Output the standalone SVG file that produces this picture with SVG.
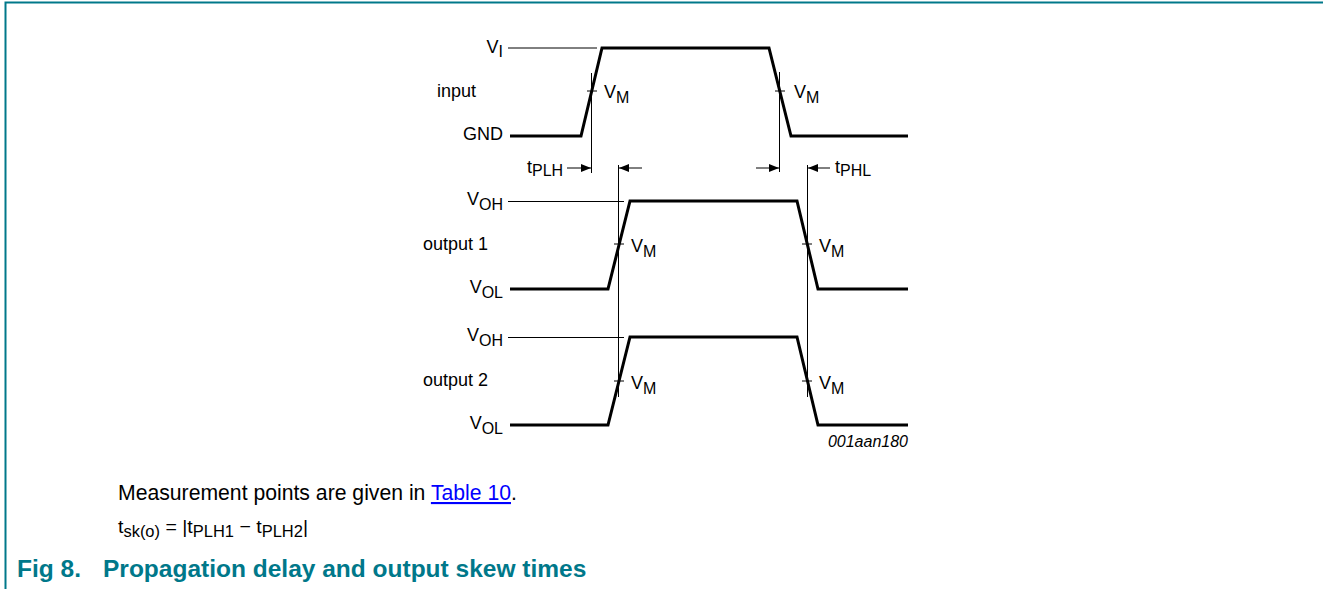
<svg xmlns="http://www.w3.org/2000/svg" width="1323" height="589" viewBox="0 0 1323 589">
<style>
.lbl{font-family:"Liberation Sans",Arial,sans-serif;font-size:18px;fill:#000}
.sub{font-size:16px}
.wave{fill:none;stroke:#000;stroke-width:3;stroke-linejoin:miter}
.thin{fill:none;stroke:#000;stroke-width:1}
.cap{font-family:"Liberation Sans",Arial,sans-serif;font-size:21.2px;fill:#000}
.csub{font-size:16px}
.title{font-family:"Liberation Sans",Arial,sans-serif;font-size:24.5px;font-weight:bold;fill:#00788a}
</style>
<defs>
<marker id="ah" viewBox="0 0 10 8" refX="10" refY="4" markerWidth="10" markerHeight="8" markerUnits="userSpaceOnUse" orient="auto">
<path d="M0,0 L10,4 L0,8 Z" fill="#000"/>
</marker>
</defs>
<rect width="1323" height="589" fill="#fff"/>
<g id="frame" fill="none" stroke="#00788a" stroke-width="2">
<path d="M5.5,589 V2.5 H1323"/>
</g>
<g id="input">
<polyline class="wave" points="510,136 581,136 602,48 769,48 791,136 908,136"/>
<line class="thin" x1="508" y1="48" x2="597" y2="48"/>
<text class="lbl" x="503" y="53" text-anchor="end">V<tspan class="sub" dy="4">I</tspan></text>
<text class="lbl" x="437" y="97">input</text>
<text class="lbl" x="503" y="140" text-anchor="end">GND</text>
<line class="thin" x1="587" y1="91" x2="597" y2="91"/>
<line class="thin" x1="775" y1="91" x2="785" y2="91"/>
<text class="lbl" x="604" y="98">V<tspan class="sub" dy="5">M</tspan></text>
<text class="lbl" x="794" y="98">V<tspan class="sub" dy="5">M</tspan></text>
</g>
<g id="output1">
<polyline class="wave" points="510,289 608,289 630,201 797,201 818,289 908,289"/>
<line class="thin" x1="508" y1="201.5" x2="624" y2="201.5"/>
<text class="lbl" x="503" y="205" text-anchor="end">V<tspan class="sub" dy="5">OH</tspan></text>
<text class="lbl" x="423" y="250">output 1</text>
<text class="lbl" x="503" y="293" text-anchor="end">V<tspan class="sub" dy="5">OL</tspan></text>
<line class="thin" x1="614" y1="244" x2="624" y2="244"/>
<line class="thin" x1="802" y1="244" x2="812" y2="244"/>
<text class="lbl" x="631" y="252">V<tspan class="sub" dy="5">M</tspan></text>
<text class="lbl" x="819" y="252">V<tspan class="sub" dy="5">M</tspan></text>
</g>
<g id="output2">
<polyline class="wave" points="510,425 608,425 630,337 797,337 818,425 908,425"/>
<line class="thin" x1="508" y1="337.5" x2="624" y2="337.5"/>
<text class="lbl" x="503" y="341" text-anchor="end">V<tspan class="sub" dy="5">OH</tspan></text>
<text class="lbl" x="423" y="386">output 2</text>
<text class="lbl" x="503" y="429" text-anchor="end">V<tspan class="sub" dy="5">OL</tspan></text>
<line class="thin" x1="614" y1="381" x2="624" y2="381"/>
<line class="thin" x1="802" y1="381" x2="812" y2="381"/>
<text class="lbl" x="631" y="389">V<tspan class="sub" dy="5">M</tspan></text>
<text class="lbl" x="819" y="389">V<tspan class="sub" dy="5">M</tspan></text>
<text class="lbl" x="908" y="447" text-anchor="end" style="font-size:16px;font-style:italic">001aan180</text>
</g>
<g id="connectors">
<line class="thin" x1="591.5" y1="73" x2="591.5" y2="173"/>
<line class="thin" x1="779.5" y1="72" x2="779.5" y2="172"/>
<line class="thin" x1="618.5" y1="165" x2="618.5" y2="397"/>
<line class="thin" x1="807.5" y1="165" x2="807.5" y2="397"/>
<line class="thin" x1="567" y1="168" x2="591" y2="168" marker-end="url(#ah)"/>
<line class="thin" x1="642" y1="168" x2="619" y2="168" marker-end="url(#ah)"/>
<line class="thin" x1="756" y1="168" x2="779" y2="168" marker-end="url(#ah)"/>
<line class="thin" x1="830" y1="168" x2="808" y2="168" marker-end="url(#ah)"/>
<text class="lbl" x="527" y="173">t<tspan class="sub" dy="3">PLH</tspan></text>
<text class="lbl" x="835" y="173">t<tspan class="sub" dy="3">PHL</tspan></text>
</g>
<g id="caption">
<text class="cap" x="118" y="500">Measurement points are given in <tspan fill="#0000ff" text-decoration="underline">Table 10</tspan>.</text>
<text class="cap" x="118" y="533" style="font-size:19px" textLength="190" lengthAdjust="spacingAndGlyphs">t<tspan class="csub" dy="4">sk(o)</tspan><tspan dy="-4"> = |t</tspan><tspan class="csub" dy="4">PLH1</tspan><tspan dy="-4"> − t</tspan><tspan class="csub" dy="4">PLH2</tspan><tspan dy="-4">|</tspan></text>
<text class="title" x="17" y="577">Fig 8.</text>
<text class="title" x="103" y="577">Propagation delay and output skew times</text>
</g>
</svg>
